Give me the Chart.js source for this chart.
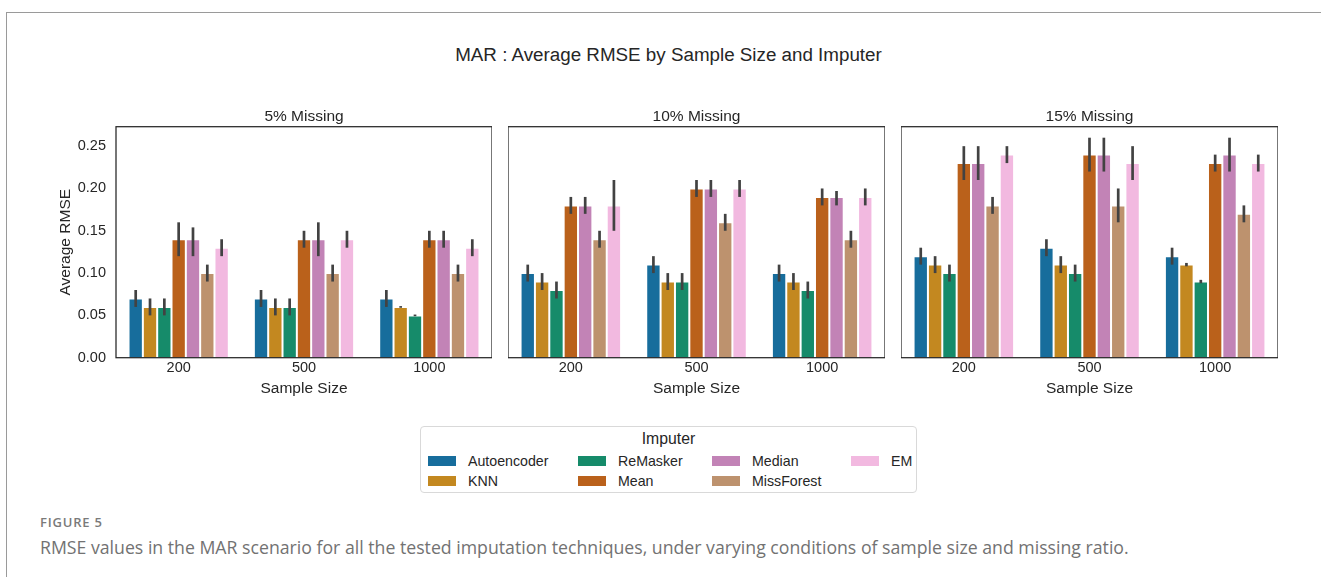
<!DOCTYPE html>
<html>
<head>
<meta charset="utf-8">
<script src="https://cdn.jsdelivr.net/npm/chart.js@4.4.1/dist/chart.umd.min.js"></script>
<style>
  html, body { margin: 0; padding: 0; background: #fff; }
  body { width: 1321px; height: 577px; position: relative; overflow: hidden; font-family: "Liberation Sans", Arial, sans-serif; color: #262626; }
  .frameTop { position: absolute; left: 7px; top: 12px; width: 1314px; height: 0; border-top: 1.5px solid #9a9a9a; }
  .frameLeft { position: absolute; left: 6px; top: 12px; width: 0; height: 565px; border-left: 1.5px solid #9a9a9a; }
  .title { position: absolute; left: 0; top: 44px; width: 1337px; text-align: center; font-size: 18.8px; line-height: 22px; }
  .panel { position: absolute; top: 100px; height: 298px; }
  .legend { position: absolute; left: 420px; top: 426px; width: 497px; height: 67px; border: 1px solid #d9d9d9; border-radius: 4px; box-sizing: border-box; }
  .legend .lt { position: absolute; left: 0; top: 2px; width: 100%; text-align: center; font-size: 15.8px; line-height: 19px; }
  .legend .sw { position: absolute; width: 28px; height: 10px; }
  .legend .tx { position: absolute; font-size: 14.2px; line-height: 16px; }
  .fig { position: absolute; left: 40px; top: 514px; font-family: "Open Sans", "Noto Sans", sans-serif; font-weight: 600; font-size: 13px; letter-spacing: 0.8px; color: #7a7a7a; line-height: 16px; }
  .cap { position: absolute; left: 40px; top: 535px; font-family: "Open Sans", "Noto Sans", sans-serif; font-weight: 400; font-size: 17.7px; color: #727272; line-height: 24px; white-space: nowrap; }
</style>
</head>
<body>
<div class="frameTop"></div>
<div class="frameLeft"></div>
<div class="title">MAR : Average RMSE by Sample Size and Imputer</div>
<div class="panel" style="left:40px;width:452px;"><canvas id="c1"></canvas></div>
<div class="panel" style="left:508px;width:377px;"><canvas id="c2"></canvas></div>
<div class="panel" style="left:901px;width:377px;"><canvas id="c3"></canvas></div>
<div class="legend" id="legend"><div class="lt">Imputer</div></div>
<div class="fig">FIGURE 5</div>
<div class="cap">RMSE values in the MAR scenario for all the tested imputation techniques, under varying conditions of sample size and missing ratio.</div>
<script>
// ---------- data ----------
const sampleSizes = ['200', '500', '1000'];
const imputers = ['Autoencoder', 'KNN', 'ReMasker', 'Mean', 'Median', 'MissForest', 'EM'];
const imputerColors = ['#176D9C', '#C38820', '#168B6A', '#BA611B', '#C283B6', '#BD926E', '#F2B9E0'];
const panelTitles = ['5% Missing', '10% Missing', '15% Missing'];
const yTicks = [0.00, 0.05, 0.10, 0.15, 0.20, 0.25];

// rows: imputers (same order), columns: sample sizes 200, 500, 1000
const rmse5  = [[0.07,0.07,0.07],[0.06,0.06,0.06],[0.06,0.06,0.05],[0.14,0.14,0.14],[0.14,0.14,0.14],[0.10,0.10,0.10],[0.13,0.14,0.13]];
const lo5    = [[0.06,0.06,0.06],[0.05,0.05,0.059],[0.05,0.05,0.049],[0.12,0.13,0.13],[0.12,0.12,0.13],[0.09,0.09,0.09],[0.12,0.13,0.12]];
const hi5    = [[0.08,0.08,0.08],[0.07,0.07,0.061],[0.07,0.07,0.051],[0.16,0.15,0.15],[0.154,0.16,0.15],[0.11,0.11,0.11],[0.14,0.15,0.14]];

const rmse10 = [[0.10,0.11,0.10],[0.09,0.09,0.09],[0.08,0.09,0.08],[0.18,0.20,0.19],[0.18,0.20,0.19],[0.14,0.16,0.14],[0.18,0.20,0.19]];
const lo10   = [[0.09,0.10,0.09],[0.08,0.08,0.08],[0.07,0.08,0.07],[0.17,0.19,0.18],[0.17,0.19,0.18],[0.13,0.15,0.13],[0.15,0.19,0.18]];
const hi10   = [[0.11,0.12,0.11],[0.10,0.10,0.10],[0.09,0.10,0.09],[0.19,0.21,0.20],[0.19,0.21,0.197],[0.15,0.17,0.15],[0.21,0.21,0.20]];

const rmse15 = [[0.12,0.13,0.12],[0.11,0.11,0.11],[0.10,0.10,0.09],[0.23,0.24,0.23],[0.23,0.24,0.24],[0.18,0.18,0.17],[0.24,0.23,0.23]];
const lo15   = [[0.11,0.12,0.11],[0.10,0.10,0.108],[0.09,0.09,0.088],[0.21,0.22,0.22],[0.21,0.22,0.22],[0.17,0.16,0.16],[0.23,0.21,0.22]];
const hi15   = [[0.13,0.14,0.13],[0.12,0.12,0.112],[0.11,0.11,0.092],[0.25,0.26,0.24],[0.25,0.26,0.26],[0.19,0.20,0.18],[0.25,0.25,0.24]];

const panels = [
  { id: 'c1', title: panelTitles[0], vals: rmse5,  lo: lo5,  hi: hi5,  showY: true },
  { id: 'c2', title: panelTitles[1], vals: rmse10, lo: lo10, hi: hi10, showY: false },
  { id: 'c3', title: panelTitles[2], vals: rmse15, lo: lo15, hi: hi15, showY: false }
];

const FONT = '"Liberation Sans", Arial, sans-serif';
const TXT = '#262626';

const errorBars = {
  id: 'errorBars',
  afterDatasetsDraw(chart) {
    const ctx = chart.ctx;
    const ys = chart.scales.y;
    ctx.save();
    ctx.strokeStyle = '#424242';
    ctx.lineWidth = 2.7;
    ctx.lineCap = 'butt';
    chart.data.datasets.forEach((ds, di) => {
      const meta = chart.getDatasetMeta(di);
      meta.data.forEach((bar, i) => {
        const y1 = ys.getPixelForValue(ds.errLo[i]);
        const y2 = ys.getPixelForValue(ds.errHi[i]);
        ctx.beginPath();
        ctx.moveTo(bar.x, y1);
        ctx.lineTo(bar.x, y2);
        ctx.stroke();
      });
    });
    ctx.restore();
  }
};

const frameBox = {
  id: 'frameBox',
  afterDraw(chart) {
    const a = chart.chartArea;
    const ctx = chart.ctx;
    ctx.save();
    ctx.strokeStyle = '#262626';
    ctx.lineWidth = 1.25;
    ctx.strokeRect(a.left, a.top, a.right - a.left, a.bottom - a.top);
    ctx.restore();
  }
};

panels.forEach(p => {
  const datasets = imputers.map((name, k) => ({
    label: name,
    data: p.vals[k],
    errLo: p.lo[k],
    errHi: p.hi[k],
    backgroundColor: imputerColors[k],
    borderColor: 'rgba(255,255,255,0.35)',
    borderWidth: 1,
    categoryPercentage: 0.8,
    barPercentage: 1.0
  }));
  new Chart(document.getElementById(p.id), {
    type: 'bar',
    data: { labels: sampleSizes, datasets },
    plugins: [errorBars, frameBox],
    options: {
      responsive: true,
      maintainAspectRatio: false,
      animation: false,
      devicePixelRatio: 1,
      layout: { padding: { top: 7.6, left: 0, right: 0, bottom: 0 } },
      plugins: {
        legend: { display: false },
        tooltip: { enabled: false },
        title: {
          display: true,
          text: p.title,
          fullSize: false,
          color: TXT,
          font: { family: FONT, size: 15.5, weight: 'normal' },
          padding: { top: 0, bottom: 0.5 }
        }
      },
      scales: {
        x: {
          grid: { display: false, drawTicks: false },
          border: { display: false },
          ticks: { color: TXT, font: { family: FONT, size: 14.5 }, padding: 1.6 },
          title: { display: true, text: 'Sample Size', color: TXT, font: { family: FONT, size: 15.5 }, padding: { top: 2, bottom: 0 } },
          afterFit: s => { s.height = 40.3; }
        },
        y: {
          display: p.showY,
          min: 0,
          max: 0.273,
          grid: { display: false, drawTicks: false },
          border: { display: false },
          afterBuildTicks: s => { s.ticks = yTicks.map(v => ({ value: v })); },
          ticks: {
            color: TXT,
            font: { family: FONT, size: 14.5 },
            padding: 10,
            callback: v => Number(v).toFixed(2)
          },
          title: { display: true, text: 'Average RMSE', color: TXT, font: { family: FONT, size: 15.5 }, padding: { top: 16.7, bottom: 0 } },
          afterFit: s => { if (p.showY) s.width = 76; }
        }
      }
    }
  });
});

// legend
const lg = document.getElementById('legend');
const colSw = [7, 157, 291, 430];
const colTx = [47, 197, 331, 470];
const rowY = [34, 54];
imputers.forEach((name, i) => {
  const c = Math.floor(i / 2), r = i % 2;
  const sw = document.createElement('div');
  sw.className = 'sw';
  sw.style.left = colSw[c] + 'px';
  sw.style.top = (rowY[r] - 5) + 'px';
  sw.style.background = imputerColors[i];
  lg.appendChild(sw);
  const tx = document.createElement('div');
  tx.className = 'tx';
  tx.style.left = colTx[c] + 'px';
  tx.style.top = (rowY[r] - 8) + 'px';
  tx.textContent = name;
  lg.appendChild(tx);
});
</script>
</body>
</html>
